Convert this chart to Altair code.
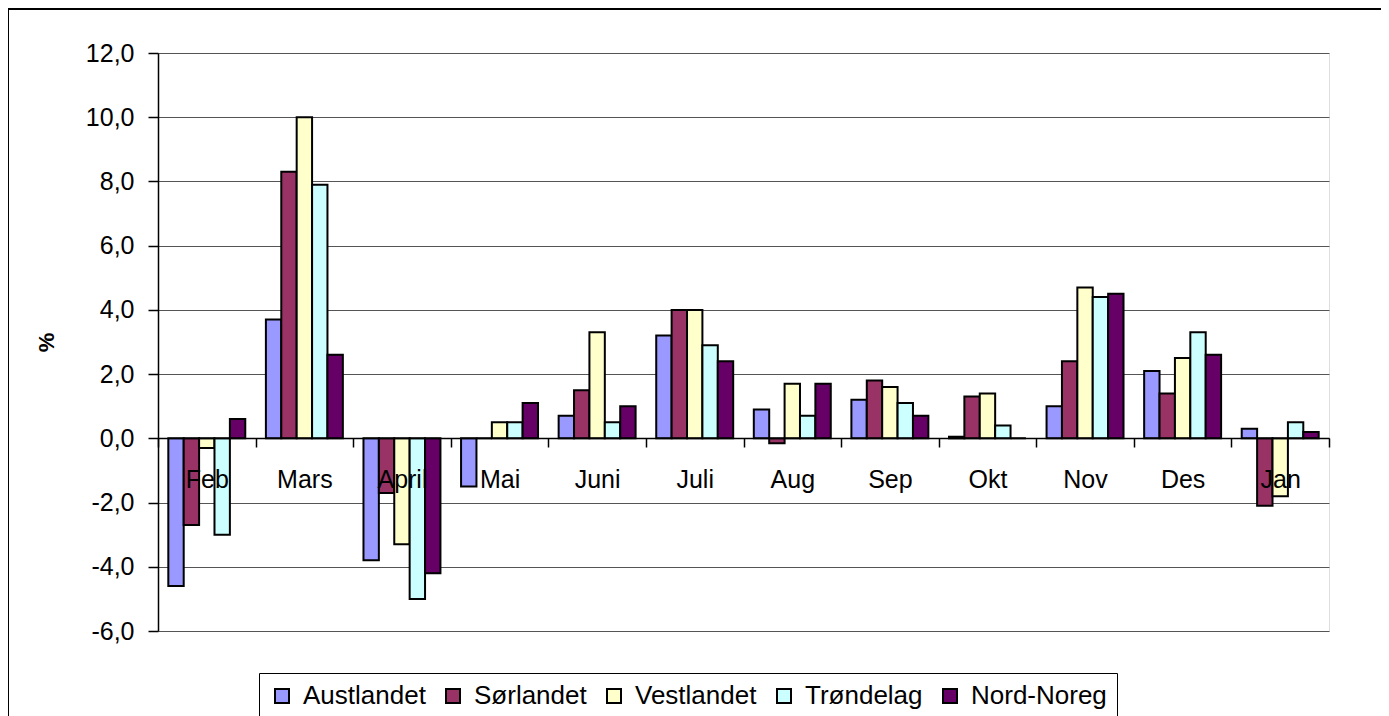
import altair as alt
import pandas as pd

months = ["Feb", "Mars", "April", "Mai", "Juni", "Juli", "Aug", "Sep", "Okt", "Nov", "Des", "Jan"]
regions = ["Austlandet", "Sørlandet", "Vestlandet", "Trøndelag", "Nord-Noreg"]
colors = ["#9999FF", "#993366", "#FFFFCC", "#CCFFFF", "#660066"]

austlandet = [-4.6, 3.7, -3.8, -1.5, 0.7, 3.2, 0.9, 1.2, 0.05, 1.0, 2.1, 0.3]
sorlandet = [-2.7, 8.3, -1.7, 0.0, 1.5, 4.0, -0.15, 1.8, 1.3, 2.4, 1.4, -2.1]
vestlandet = [-0.3, 10.0, -3.3, 0.5, 3.3, 4.0, 1.7, 1.6, 1.4, 4.7, 2.5, -1.8]
trondelag = [-3.0, 7.9, -5.0, 0.5, 0.5, 2.9, 0.7, 1.1, 0.4, 4.4, 3.3, 0.5]
nordnoreg = [0.6, 2.6, -4.2, 1.1, 1.0, 2.4, 1.7, 0.7, 0.0, 4.5, 2.6, 0.2]

y_ticks = [-6, -4, -2, 0, 2, 4, 6, 8, 10, 12]

series = [austlandet, sorlandet, vestlandet, trondelag, nordnoreg]
rows = []
for reg, vals in zip(regions, series):
    for m, v in zip(months, vals):
        rows.append({"month": m, "region": reg, "value": v})
df = pd.DataFrame(rows)

FONT = "Arial, Liberation Sans"
W, H = 1171, 578

bars = alt.Chart(df).mark_bar(stroke="black", strokeWidth=2).encode(
    x=alt.X(
        "month:N",
        sort=months,
        scale=alt.Scale(paddingInner=0, paddingOuter=0),
        axis=alt.Axis(
            title=None,
            offset=-193,
            labelAngle=0,
            labelFont=FONT,
            labelFontSize=25,
            labelColor="black",
            labelBaseline="alphabetic",
            labelPadding=40,
            tickBand="extent",
            tickSize=9,
            tickColor="black",
            tickWidth=1.5,
            domainColor="black",
            domainWidth=1.5,
            grid=False,
            zindex=1,
        ),
    ),
    xOffset=alt.XOffset(
        "region:N",
        sort=regions,
        scale=alt.Scale(paddingInner=0, paddingOuter=0.67),
    ),
    y=alt.Y(
        "value:Q",
        scale=alt.Scale(domain=[-6, 12], nice=False, zero=False),
        axis=alt.Axis(
            values=y_ticks,
            title="%",
            titleFont=FONT,
            titleFontSize=22,
            titleFontWeight="bold",
            titleAngle=-90,
            titleX=-112,
            titleY=H / 2,
            titleAlign="center",
            titleBaseline="middle",
            labelExpr="replace(replace(format(datum.value, '.1f'), '.', ','), '\u2212', '-')",
            labelFont=FONT,
            labelFontSize=25,
            labelColor="black",
            labelPadding=14,
            tickSize=10,
            tickColor="black",
            tickWidth=1.5,
            domainColor="black",
            domainWidth=1.5,
            grid=True,
            gridColor="#555555",
            gridWidth=1,
            zindex=0,
        ),
    ),
    color=alt.Color(
        "region:N",
        sort=regions,
        scale=alt.Scale(domain=regions, range=colors),
        legend=alt.Legend(
            title=None,
            orient="none",
            legendX=101,
            legendY=620,
            direction="horizontal",
            strokeColor="black",
            padding=10,
            symbolType="square",
            symbolSize=196,
            symbolStrokeColor="black",
            symbolStrokeWidth=2,
            labelFont=FONT,
            labelFontSize=26,
            labelColor="black",
            labelOffset=8,
            columnPadding=14,
        ),
    ),
)

border = alt.Chart(pd.DataFrame({"a": [0]})).mark_rect(
    fillOpacity=0, stroke="black", strokeWidth=2, clip=False
).encode(
    x=alt.value(-150), x2=alt.value(1227), y=alt.value(-44), y2=alt.value(675)
)

chart = alt.layer(bars, border).properties(
    width=W,
    height=H,
    autosize=alt.AutoSizeParams(type="none"),
    padding={"left": 150, "top": 45, "right": 52, "bottom": 85},
).configure_view(
    stroke="#999999", strokeWidth=2
).configure(background="white")

chart.save("out.html", embed_options={"renderer": "svg", "actions": False})
